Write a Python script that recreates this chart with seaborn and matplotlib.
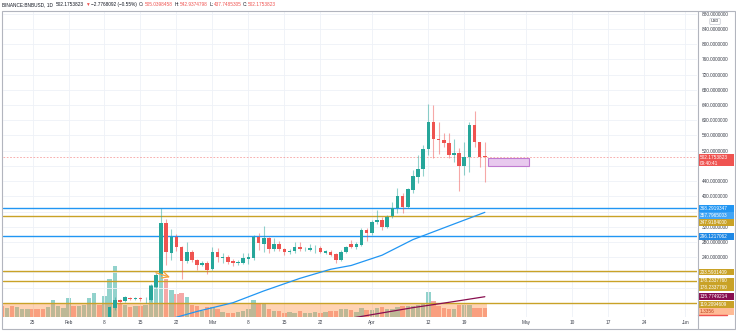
import numpy as np
import pandas as pd
import matplotlib
matplotlib.use("Agg")
import matplotlib.pyplot as plt
import matplotlib.dates as mdates
from matplotlib.patches import Rectangle
from matplotlib.lines import Line2D
from matplotlib.ticker import FixedLocator, FixedFormatter, FuncFormatter
import seaborn as sns

# ---------------- data ----------------
dates = pd.date_range("2021-01-19", "2021-04-23", freq="D")

opens = [43.5, 42.0, 43.0, 38.0, 41.0, 41.5, 42.5, 41.6, 41.2, 39.4, 42.3, 44.5, 45.2,
         45.8, 49.8, 49.0, 51.8, 52.6, 56.5, 61.5, 60.2, 76.0, 106.0, 127.0, 125.4, 133.2, 129.7,
         133.2, 128.9, 127.1, 162.1, 195.5, 330.5, 251.7, 293.8, 265.7, 230.6, 252.6, 232.4, 219.2, 225.3,
         208.0, 253.4, 237.5, 239.5, 230.5, 223.7, 225.3, 235.1, 236.9, 293.7, 274.5, 289.5, 260.5, 274.5,
         260.5, 252.6, 256.9, 267.4, 260.5, 259.0, 260.5, 263.2, 251.6, 254.2, 247.4, 232.4, 254.2, 274.5,
         267.4, 272.0, 311.3,
         302.6, 333.2, 337.6, 320.0, 348.5, 368.4, 401.6, 372.6, 416.6, 451.6, 471.1, 523.7, 594.7, 550.0,
         548.2, 541.1, 508.7, 514.8, 480.5, 502.6, 587.7, 542.1, 505.0398458]
highs = [45.0, 43.6, 43.4, 42.0, 42.0, 43.0, 44.0, 42.2, 41.5, 43.0, 47.0, 46.0, 46.0,
         50.5, 51.0, 52.5, 53.5, 58.0, 63.0, 62.5, 78.0, 112.0, 135.0, 130.6, 137.0, 136.0, 136.0,
         136.0, 136.0, 168.0, 198.0, 368.3, 340.0, 313.0, 300.0, 270.0, 280.6, 258.0, 236.0, 230.0, 229.0,
         266.6, 263.0, 250.0, 245.0, 234.0, 232.0, 250.0, 250.0, 298.0, 302.6, 322.6, 293.0, 289.5, 282.0,
         265.0, 262.0, 280.6, 280.6, 266.0, 275.0, 272.0, 268.0, 260.0, 260.0, 252.0, 258.0, 270.0, 285.0,
         280.0, 316.0, 316.0,
         337.0, 364.0, 345.0, 350.0, 385.8, 421.0, 410.0, 422.0, 469.0, 508.7, 535.0, 642.9, 640.3, 596.3,
         565.8, 565.8, 550.0, 526.3, 542.1, 596.3, 624.5, 543.7, 542.9374798]
lows = [41.5, 39.0, 36.5, 36.6, 40.0, 40.5, 41.0, 39.5, 37.6, 39.0, 41.5, 43.5, 43.0,
        45.0, 48.0, 48.5, 49.5, 52.0, 55.0, 57.0, 59.0, 74.0, 102.0, 118.4, 121.0, 127.0, 127.0,
        124.0, 118.4, 125.0, 158.0, 190.0, 219.2, 232.4, 255.0, 181.6, 225.0, 228.0, 206.0, 216.0, 195.5,
        205.0, 227.9, 223.7, 222.0, 216.0, 219.0, 222.0, 222.0, 233.0, 258.7, 254.2, 250.0, 255.0, 255.0,
        246.0, 248.0, 252.0, 255.0, 255.0, 256.0, 250.0, 250.0, 248.0, 242.0, 223.7, 230.0, 250.0, 264.0,
        262.0, 270.0, 283.0,
        298.0, 328.0, 311.3, 316.0, 342.0, 355.3, 355.3, 368.0, 410.0, 434.2, 453.4, 508.7, 500.0, 511.3,
        530.6, 500.0, 491.0, 414.8, 456.0, 464.8, 530.6, 478.0, 437.7485305]
closes = [42.0, 43.0, 38.0, 41.0, 41.5, 42.5, 41.6, 41.2, 39.4, 42.3, 44.5, 45.2, 45.8,
          49.8, 49.0, 51.8, 52.6, 56.5, 61.5, 60.2, 76.0, 108.0, 127.0, 122.7, 134.2, 130.6, 132.4,
          128.9, 129.5, 163.9, 192.9, 330.5, 252.6, 293.8, 267.4, 228.9, 254.3, 232.4, 219.2, 223.7, 206.1,
          254.3, 240.3, 240.2, 227.9, 223.7, 227.9, 238.4, 240.3, 293.7, 276.3, 289.5, 260.5, 274.5, 260.5,
          252.6, 256.9, 267.4, 260.5, 261.5, 263.2, 261.2, 254.2, 256.9, 245.5, 232.4, 254.2, 267.4, 267.4,
          274.5, 311.3, 302.6,
          333.2, 337.6, 320.0, 346.3, 368.4, 401.6, 372.6, 418.4, 453.4, 471.1, 524.5, 594.7, 550.0, 548.2,
          541.1, 508.7, 514.8, 480.5, 502.6, 587.7, 542.1, 504.2, 502.1753823]
volumes = [11, 9, 11, 10, 8, 8, 8, 8, 8, 10, 17, 11, 9,
           19, 11, 11, 12, 19, 24, 12, 21, 38, 51, 13, 12, 10, 11, 11, 12, 32, 42, 48, 38,
           27, 23, 24, 20, 12, 11, 6, 10,
           10, 8, 5, 4.5, 4, 5, 6, 8, 17, 14, 14, 8, 6, 6, 4, 5, 4, 6, 4, 4, 5, 4, 5, 6, 6, 8, 8, 7, 5, 9, 7,
           7, 9, 10, 8, 8, 10, 11, 11, 11, 12, 13, 25, 16, 11, 9, 8, 8, 12, 12, 12, 9, 9, 9]

ma50_dates = ["2021-02-21", "2021-02-26", "2021-03-05", "2021-03-11", "2021-03-18", "2021-03-24",
              "2021-03-28", "2021-04-03", "2021-04-09", "2021-04-16", "2021-04-23"]
ma50_values = [78, 97, 120, 151, 184, 208, 218, 245, 286, 322, 357.7965003]
ma200_dates = ["2021-03-27", "2021-04-09", "2021-04-16", "2021-04-23"]
ma200_values = [77, 107, 121, 135.7749214]

levels = [368.2919347, 347.9184000, 296.1217062, 203.5931409, 178.2337760, 119.2094609]
level_kinds = ["blue", "gold", "blue", "gold", "gold", "gold"]
band_bottom = 1.3356
change_text = "\u22122.7768092 (\u22120.55%)"
clock_text = "09:40:41"
box_top, box_bottom = 500.8, 479.8

tick_dates = ["2021-01-25", "2021-02-01", "2021-02-08", "2021-02-15", "2021-02-22", "2021-03-01",
              "2021-03-08", "2021-03-15", "2021-03-22", "2021-04-01", "2021-04-12", "2021-04-19",
              "2021-05-01", "2021-05-10", "2021-05-17", "2021-05-24", "2021-06-01"]
tick_labels = ["25", "Feb", "8", "15", "22", "Mar", "8", "15", "22", "Apr", "12", "19",
               "May", "10", "17", "24", "Jun"]
price_ticks = list(range(120, 881, 40))
hidden_price_ticks = [120, 160, 200, 360, 480]

# ---------------- style ----------------
sns.set_theme(style="white")
plt.rcParams['font.family'] = ['Liberation Sans', 'DejaVu Sans']

TEAL, RED = "#26a69a", "#ef5350"
BLUE, GOLD = "#2196f3", "#c9a227"
TXT = "#131722"
AXT = "#3b3f4a"
FS = 3.4

W, H = 736, 332
fig = plt.figure(figsize=(W / 100, H / 100), dpi=100)
fig.patch.set_facecolor("white")

def fx(px):
    return px / W

def fy(py):
    return 1 - py / H

PL, PR, PT, PB = 3, 697, 11, 317
ax = fig.add_axes([fx(PL), fy(PB), (PR - PL) / W, (PB - PT) / H])
axv = ax.twinx()
ax.set_zorder(axv.get_zorder() + 1)
ax.patch.set_visible(False)

xs = mdates.date2num(dates)
feb1 = mdates.date2num(pd.Timestamp("2021-02-01"))
PXD = 5.14
x0 = feb1 - (68.5 - PL) / PXD
x1 = feb1 + (PR - 68.5) / PXD
ax.set_xlim(x0, x1)
ax.set_ylim(82.4, 887.6)
axv.set_ylim(0, PB - PT)

o = np.array(opens); h = np.array(highs); l = np.array(lows); c = np.array(closes)
up = c >= o
last_close = closes[-1]

# volume
vcol = [(0.149, 0.651, 0.604, 0.5) if u else (0.937, 0.325, 0.314, 0.5) for u in up]
axv.bar(xs, volumes, width=0.86, color=vcol, linewidth=0)

# orange band
apr23 = xs[-1]
ax.add_patch(Rectangle((x0 - 5, band_bottom), apr23 + 0.35 - (x0 - 5), levels[-1] - band_bottom,
                       facecolor="#ff9345", alpha=0.4, linewidth=0, zorder=1.5))

# grid
for p in price_ticks:
    ax.axhline(p, color="#eef1f7", lw=0.6, zorder=0.5)
tick_x = mdates.date2num(pd.to_datetime(tick_dates))
for tx in tick_x:
    ax.axvline(tx, color="#eef1f7", lw=0.6, zorder=0.5)

# horizontal levels
for lv, kind in zip(levels, level_kinds):
    ax.axhline(lv, color=BLUE if kind == "blue" else GOLD, lw=1.0, zorder=2)
ax.axhline(last_close, color=RED, lw=0.6, ls=(0, (2, 2)), alpha=0.55, zorder=2)

# moving averages (seaborn)
sns.lineplot(x=mdates.date2num(pd.to_datetime(ma50_dates)), y=ma50_values, ax=ax,
             color=BLUE, lw=0.9, zorder=2.6)
sns.lineplot(x=mdates.date2num(pd.to_datetime(ma200_dates)), y=ma200_values, ax=ax,
             color="#880e4f", lw=0.9, zorder=2.6)

# candles
wcol = [(0.149, 0.651, 0.604, 0.5) if u else (0.937, 0.325, 0.314, 0.5) for u in up]
ax.vlines(xs, l, h, colors=wcol, lw=0.8, zorder=3)
body_bottom = np.minimum(o, c)
body_h = np.maximum(np.abs(c - o), 1.6)
ax.bar(xs, body_h, bottom=body_bottom, width=0.7, color=[TEAL if u else RED for u in up],
       linewidth=0, zorder=4)

# projection box
ax.add_patch(Rectangle((apr23 + 0.6, box_bottom), 8.0, box_top - box_bottom,
                       facecolor="#e8c9ee", edgecolor="#c07ad0", lw=0.8, zorder=3))

# small orange arrow
ax.annotate("", xy=(mdates.date2num(pd.Timestamp("2021-02-20 18:00")), 187),
            xytext=(mdates.date2num(pd.Timestamp("2021-02-18")), 199),
            arrowprops=dict(arrowstyle="->", color="#f5a03a", lw=0.9, shrinkA=0, shrinkB=0),
            zorder=5)

# axes styling
for a in (ax, axv):
    for s in a.spines.values():
        s.set_visible(False)
ax.set_xlabel(""); ax.set_ylabel("")
axv.set_yticks([])
axv.tick_params(right=False, labelright=False)
ax.xaxis.set_major_locator(FixedLocator(tick_x))
ax.xaxis.set_major_formatter(FixedFormatter(tick_labels))
ax.tick_params(axis="x", length=0, pad=2.2, labelsize=FS, labelcolor=AXT)
ax.yaxis.tick_right()
ax.set_yticks(price_ticks)
ax.yaxis.set_major_formatter(FuncFormatter(
    lambda v, pos: "" if int(round(v)) in hidden_price_ticks else f"{v:.7f}"))
ax.tick_params(axis="y", length=0, pad=3.6, labelsize=FS, labelcolor=AXT,
               left=False, labelleft=False, right=False, labelright=True)
ax.grid(False); axv.grid(False)

# price-scale labels
label_texts = [f"{levels[0]:.7f}", f"{ma50_values[-1]:.7f}", f"{levels[1]:.7f}", f"{levels[2]:.7f}",
               f"{levels[3]:.7f}", f"{levels[4]:.7f}", f"{levels[4]:.7f}", f"{ma200_values[-1]:.7f}",
               f"{levels[5]:.7f}", f"{band_bottom:.4f}"]
label_rows = [208.3, 215.3, 222.3, 236.7, 272.0, 281.0, 287.7, 296.7, 304.3, 311.7]
label_bgs = ["#2196f3", "#42a5f5", GOLD, "#1e88e5", GOLD, GOLD, GOLD, "#880e4f", GOLD, "#ffbb96"]
label_fgs = ["white"] * 9 + ["#b8401a"]
LH = 6.6
for txt, row, bg, fg in zip(label_texts, label_rows, label_bgs, label_fgs):
    fig.add_artist(Rectangle((fx(697.5), fy(row + LH / 2)), (733.5 - 697.5) / W, LH / H,
                             transform=fig.transFigure, facecolor=bg, edgecolor="none", zorder=5))
    fig.text(fx(700), fy(row), txt, color=fg, fontsize=FS, va="center", ha="left", zorder=6)
fig.add_artist(Line2D([fx(697.5), fx(727)], [fy(315.3), fy(315.3)], color=RED, lw=1.0, zorder=6))

# current price label
fig.add_artist(Rectangle((fx(697.5), fy(165.5)), (733.5 - 697.5) / W, 11.5 / H,
                         transform=fig.transFigure, facecolor=RED, edgecolor="none", zorder=5))
fig.text(fx(700), fy(157.2), f"{last_close:.7f}", color="white", fontsize=FS, va="center", zorder=6)
fig.text(fx(700), fy(163.2), clock_text, color="white", fontsize=FS, va="center", zorder=6)

# USD box (just below the top price label)
fig.text(fx(715), fy(21.5), "USD", color=TXT, fontsize=2.8, ha="center", va="center", zorder=6,
         bbox=dict(boxstyle="round,pad=0.3", fc="white", ec="#c4c7cf", lw=0.5))

# frame
fig.add_artist(Rectangle((fx(1.5), fy(328.5)), (734.5 - 1.5) / W, (328.5 - 11) / H,
                         transform=fig.transFigure, fill=False, edgecolor="#b2b5be", lw=0.8, zorder=7))
fig.add_artist(Line2D([fx(697.5), fx(697.5)], [fy(11), fy(328.5)], color="#b2b5be", lw=0.8, zorder=7))

# header
renderer = fig.canvas.get_renderer()
pieces = [("BINANCE:BNBUSD, 1D", TXT, 3.5), (f"{last_close:.7f}", TXT, 1.2), ("\u25bc", RED, 1.0),
          (change_text, TXT, 2.5),
          ("O:", TXT, 0.3), (f"{opens[-1]:.7f}", RED, 1.8),
          ("H:", TXT, 0.3), (f"{highs[-1]:.7f}", RED, 1.8),
          ("L:", TXT, 0.3), (f"{lows[-1]:.7f}", RED, 1.8),
          ("C:", TXT, 0.3), (f"{closes[-1]:.7f}", RED, 0)]
xp = 1.5
for txt, col, gap in pieces:
    t = fig.text(fx(xp), fy(4.5), txt, color=col, fontsize=FS, va="center", ha="left")
    bb = t.get_window_extent(renderer)
    xp = bb.x1 + gap

fig.savefig("out.png", dpi=100, facecolor="white")
